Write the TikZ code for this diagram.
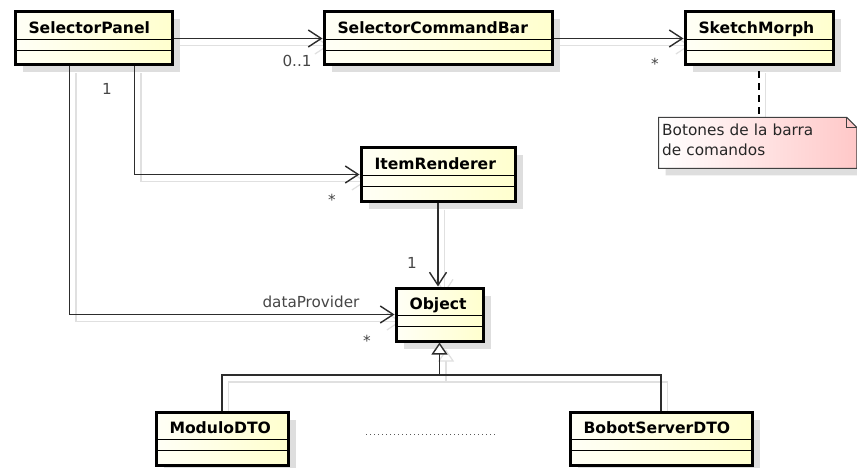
\documentclass[tikz,border=0pt]{standalone}
\usepackage{fontspec}
\setmainfont{DejaVu Sans}
\usetikzlibrary{arrows.meta,shadows,calc}
\pgfdeclarelayer{background}
\pgfsetlayers{background,main}

\definecolor{classL}{RGB}{255,255,246}
\definecolor{classR}{RGB}{255,255,206}
\definecolor{noteR}{RGB}{255,200,200}
\definecolor{ink}{RGB}{45,45,45}
\definecolor{lbl}{RGB}{70,70,70}
\definecolor{shadec}{RGB}{222,222,222}
\definecolor{ghostc}{RGB}{224,224,224}

\tikzset{
  umlclass/.style={anchor=north west, draw=black, line width=3pt,
    left color=classL, right color=classR,
    font=\fontsize{15.6}{18}\selectfont\bfseries, text=black, align=left,
    inner xsep=13.5pt, inner ysep=0pt, text height=21.5pt, text depth=31.5pt,
    drop shadow={shadow xshift=7.5pt, shadow yshift=-7.5pt, fill=shadec, opacity=1},
    path picture={
      \draw[line width=1.2pt, black]
        ([yshift=-27.5pt]path picture bounding box.north west) --
        ([yshift=-27.5pt]path picture bounding box.north east);
      \draw[line width=1.2pt, black]
        ([yshift=-38.5pt]path picture bounding box.north west) --
        ([yshift=-38.5pt]path picture bounding box.north east);
    }},
  notetext/.style={anchor=north west, align=left, text width=191pt,
    inner xsep=3.5pt, inner ysep=0pt, text height=17.5pt, text depth=33pt,
    font=\fontsize{15.3}{20}\selectfont, text=black!85},
  assoc/.style={draw=ink, line width=1.4pt,
    -{Straight Barb[length=13pt,width=17pt]}},
  genline/.style={draw=ink, line width=1.4pt},
  gen/.style={draw=ink, line width=1.4pt,
    -{Triangle[length=12pt,width=16pt,fill=white]}},
  notelink/.style={draw=black, line width=1.4pt, dash pattern=on 7pt off 5pt, dash phase=7pt},
  dottedrule/.style={draw=black!65, line width=1pt, dash pattern=on 1.2pt off 2.8pt},
  mult/.style={anchor=base, text=lbl, font=\fontsize{15.2}{18}\selectfont, inner sep=0pt},
  ghost/.style={draw=ghostc, line width=1.2pt,
    transform canvas={shift={(6.5pt,-7pt)}}},
}

\begin{document}
\begin{tikzpicture}[x=1pt, y=-1pt, font=\fontsize{15}{18}\selectfont]
\useasboundingbox (0,0) rectangle (857,468);

% classes
\node[umlclass, text width=130pt] (sp)  at (13.5,10.5)  {SelectorPanel};
\node[umlclass, text width=201pt] (scb) at (322.5,10.5) {SelectorCommandBar};
\node[umlclass, text width=121pt] (sm)  at (683.5,10.5) {SketchMorph};
\node[umlclass, text width=127pt] (ir)  at (359.5,146.5) {ItemRenderer};
\node[umlclass, text width=60pt]  (obj) at (394.5,286.5) {Object};
\node[umlclass, text width=105pt] (md)  at (154.5,410.5) {ModuloDTO};
\node[umlclass, text width=155pt] (bs)  at (568.5,410.5) {BobotServerDTO};

% note text
\node[notetext] (note) at (658.5,117.5) {Botones de la barra\\de comandos};

% junction of the generalization tree
\coordinate (gj) at (obj.south |- 0,375);

% ends of the dotted ellipsis between the subclasses
\coordinate (dotsA) at (366,434);
\coordinate (dotsB) at (497,434);

\begin{pgfonlayer}{background}
  \fill[white] (0,0) rectangle (857,468);
  % soft echo lines under the connectors
  \begin{scope}[ghost]
    \draw[-{Straight Barb[length=13pt,width=17pt]}] (sp.east) -- (scb.west);
    \draw[-{Straight Barb[length=13pt,width=17pt]}] (scb.east) -- (sm.west);
    \draw[-{Straight Barb[length=13pt,width=17pt]}] ([xshift=41pt]sp.south) |- (ir.west);
    \draw[-{Straight Barb[length=13pt,width=17pt]}] ([xshift=-24pt]sp.south) |- (obj.west);
    \draw[-{Straight Barb[length=13pt,width=17pt]}] (ir.south) -- (ir.south |- obj.north);
    \draw[-{Triangle[length=12pt,width=16pt,fill=white]}] (gj) -- (obj.south);
    \draw (md.north) |- (gj) -| (bs.north);
    \draw (sm.south) -- (sm.south |- note.north);
  \end{scope}
  % note shadow and body
  \fill[shadec] ([shift={(7pt,-7pt)}]note.north west) -- ([shift={(-3pt,-7pt)}]note.north east)
    -- ([shift={(7pt,-17pt)}]note.north east) -- ([shift={(7pt,-7pt)}]note.south east)
    -- ([shift={(7pt,-7pt)}]note.south west) -- cycle;
  \draw[line width=1pt, draw=black!75, left color=white, right color=noteR]
    (note.north west) -- ([xshift=-10pt]note.north east) -- ([yshift=-10pt]note.north east)
    -- (note.south east) -- (note.south west) -- cycle;
  \draw[line width=1pt, draw=black!75]
    ([xshift=-10pt]note.north east) -- ([xshift=-10pt,yshift=-10pt]note.north east)
    -- ([yshift=-10pt]note.north east);
\end{pgfonlayer}

% associations
\draw[assoc] (sp.east) -- (scb.west);
\draw[assoc] (scb.east) -- (sm.west);
\draw[assoc] ([xshift=41pt]sp.south) |- (ir.west);
\draw[assoc] ([xshift=-24pt]sp.south) |- (obj.west);
\draw[assoc] (ir.south) -- (ir.south |- obj.north);

% generalization
\draw[genline] (md.north) |- (gj) -| (bs.north);
\draw[gen] (gj) -- (obj.south);

% note link
\draw[notelink] (sm.south) -- (sm.south |- note.north);

% ellipsis
\draw[dottedrule] (dotsA) -- (dotsB);

% multiplicities and role
\node[mult] (m-sp-scb) at (297,67)  {0..1};
\node[mult] (m-scb-sm) at (655,70)  {*};
\node[mult] (m-sp-ir)  at (107,95)  {1};
\node[mult] (m-ir)     at (332,205) {*};
\node[mult] (m-obj-ir) at (412,268) {1};
\node[mult] (role)     at (311,307) {dataProvider};
\node[mult] (m-obj)    at (367,346) {*};
\end{tikzpicture}
\end{document}
